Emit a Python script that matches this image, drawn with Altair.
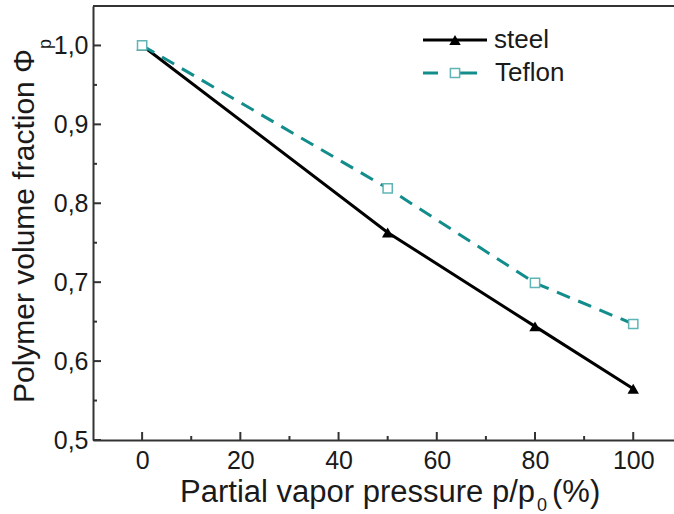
import altair as alt
import pandas as pd

# ---- data ----
pressure = [0, 50, 80, 100]
steel = [1.0, 0.763, 0.644, 0.565]
teflon = [1.0, 0.819, 0.699, 0.647]
series_names = ["steel", "Teflon"]
x_major = [0, 20, 40, 60, 80, 100]
x_minor = [10, 30, 50, 70, 90]
y_major = [0.5, 0.6, 0.7, 0.8, 0.9, 1.0]
y_minor = [0.55, 0.65, 0.75, 0.85, 0.95]
x_title_main = "Partial vapor pressure p/p"
x_title_sub = "0"
x_title_tail = "(%)"
y_title_main = "Polymer volume fraction \u03a6"
y_title_sub = "p"

# ---- styling ----
W, H = 581, 434
FONT = "Liberation Sans"
TXT = "#1a1a1a"
AX = "#333333"
TEAL = "#138c8c"
TEAL_LIGHT = "#5fb5b5"

xs = alt.Scale(domain=[-10, 108.3], nice=False, zero=False)
ys = alt.Scale(domain=[0.5, 1.05], nice=False, zero=False)

df_steel = pd.DataFrame({"p": pressure, "phi": steel})
df_tef = pd.DataFrame({"p": pressure, "phi": teflon})
one = pd.DataFrame({"k": [0]})

xaxis = alt.Axis(values=x_major, ticks=False, grid=False, title=None,
                 labelFont=FONT, labelFontSize=25, labelColor=TXT,
                 labelPadding=8, domainColor=AX, domainWidth=2,
                 labelFlush=False, labelOverlap=False)
yaxis = alt.Axis(values=y_major, ticks=False, grid=False, title=None,
                 labelFont=FONT, labelFontSize=25, labelColor=TXT,
                 labelPadding=5, domainColor=AX, domainWidth=2,
                 labelFlush=False, labelOverlap=False,
                 labelExpr="replace(format(datum.value, '.1f'), '.', ',')")

X = lambda f: alt.X(f, scale=xs, axis=xaxis)
Y = lambda f: alt.Y(f, scale=ys, axis=yaxis)

steel_line = alt.Chart(df_steel).mark_line(color="black", strokeWidth=3).encode(
    x=X("p:Q"), y=Y("phi:Q"))
steel_pts = alt.Chart(df_steel).mark_point(shape="triangle-up", filled=True, color="black",
                                           size=130, opacity=1).encode(
    x=X("p:Q"), y=Y("phi:Q"))
tef_line = alt.Chart(df_tef).mark_line(color=TEAL, strokeWidth=3, strokeDash=[14, 9]).encode(
    x=X("p:Q"), y=Y("phi:Q"))
tef_pts = alt.Chart(df_tef).mark_point(shape="square", filled=False, fill="white",
                                       stroke=TEAL_LIGHT, strokeWidth=1.5,
                                       size=85, opacity=1).encode(
    x=X("p:Q"), y=Y("phi:Q"))

# frame top
top_border = alt.Chart(one).mark_rule(color=AX, strokeWidth=2).encode(
    x=alt.value(0), x2=alt.value(W), y=alt.value(0))

# inward ticks
def xticks(vals, length):
    return alt.Chart(pd.DataFrame({"p": vals})).mark_rule(color=AX, strokeWidth=2).encode(
        x=X("p:Q"), y=alt.value(H), y2=alt.value(H - length))

def yticks(vals, length):
    return alt.Chart(pd.DataFrame({"phi": vals})).mark_rule(color=AX, strokeWidth=2).encode(
        y=Y("phi:Q"), x=alt.value(0), x2=alt.value(length))

ticks = [xticks(x_major, 8), xticks(x_minor, 4), yticks(y_major, 8), yticks(y_minor, 4)]

# axis titles
def txt(s, x, y, size, align="left", angle=0, baseline="alphabetic"):
    return alt.Chart(pd.DataFrame({"t": [s]})).mark_text(
        font=FONT, fontSize=size, color=TXT, align=align, baseline=baseline, angle=angle
    ).encode(x=alt.value(x), y=alt.value(y), text="t:N")

titles = [
    txt(x_title_main, 442, 496, 31, align="right"),
    txt(x_title_sub, 444, 505, 18, align="left"),
    txt(x_title_tail, 459, 496, 31, align="left"),
    txt(y_title_main, -59, 220, 30, align="center", angle=270),
    txt(y_title_sub, -42, 38, 18, align="center", angle=270),
]

# legend
leg = [
    alt.Chart(one).mark_rule(color="black", strokeWidth=3).encode(
        x=alt.value(330), x2=alt.value(394), y=alt.value(34)),
    alt.Chart(one).mark_point(shape="triangle-up", filled=True, color="black", size=130, opacity=1).encode(
        x=alt.value(362), y=alt.value(34)),
    alt.Chart(one).mark_rule(color=TEAL, strokeWidth=3).encode(
        x=alt.value(330), x2=alt.value(345), y=alt.value(67)),
    alt.Chart(one).mark_rule(color=TEAL, strokeWidth=3).encode(
        x=alt.value(366), x2=alt.value(384), y=alt.value(67)),
    alt.Chart(one).mark_point(shape="square", filled=False, fill="white", stroke=TEAL_LIGHT,
                              strokeWidth=1.5, size=85, opacity=1).encode(
        x=alt.value(362), y=alt.value(67)),
    txt(series_names[0], 401, 34, 26, baseline="middle"),
    txt(series_names[1], 402, 67, 26, baseline="middle"),
]

chart = alt.layer(steel_line, tef_line, steel_pts, tef_pts, top_border, *ticks, *titles, *leg).properties(
    width=W, height=H,
    padding={"left": 93, "top": 6, "right": 0, "bottom": 74},
    autosize=alt.AutoSizeParams(type="none"),
    background="white",
).configure_view(stroke=None)

chart.save("out.html", embed_options={"renderer": "svg", "actions": False})
